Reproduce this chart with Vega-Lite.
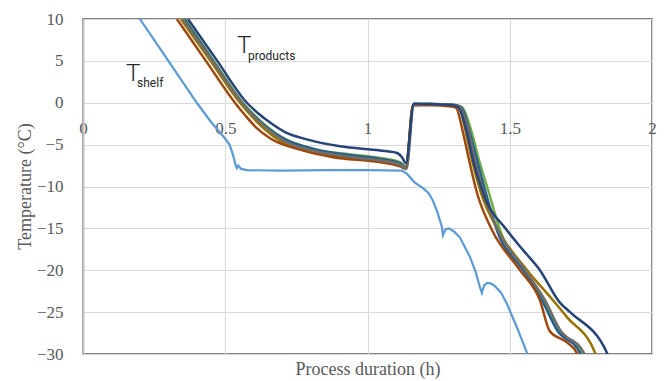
{
  "$schema": "https://vega.github.io/schema/vega-lite/v6.json",
  "width": 569,
  "height": 335,
  "autosize": {"type": "none"},
  "padding": {"left": 83, "top": 19, "right": 13, "bottom": 27},
  "background": "white",
  "config": {"view": {"stroke": "#595959", "strokeWidth": 1.5}},
  "datasets": {
    "curves": [
      {"series": "P6", "x": 0.359, "y": 10}, {"series": "P6", "x": 0.46, "y": 5}, {"series": "P6", "x": 0.562, "y": 0}, {"series": "P6", "x": 0.6, "y": -1.4}, {"series": "P6", "x": 0.645, "y": -2.8}, {"series": "P6", "x": 0.703, "y": -4.2}, {"series": "P6", "x": 0.822, "y": -5.6}, {"series": "P6", "x": 0.95, "y": -6.2}, {"series": "P6", "x": 1.044, "y": -6.6}, {"series": "P6", "x": 1.114, "y": -7.1}, {"series": "P6", "x": 1.135, "y": -7.6}, {"series": "P6", "x": 1.162, "y": -0.2}, {"series": "P6", "x": 1.22, "y": -0.15}, {"series": "P6", "x": 1.3, "y": -0.25}, {"series": "P6", "x": 1.332, "y": -0.51}, {"series": "P6", "x": 1.367, "y": -3.61}, {"series": "P6", "x": 1.392, "y": -6.84}, {"series": "P6", "x": 1.427, "y": -10.78}, {"series": "P6", "x": 1.466, "y": -15.22}, {"series": "P6", "x": 1.55, "y": -19.99}, {"series": "P6", "x": 1.617, "y": -23.58}, {"series": "P6", "x": 1.67, "y": -27.13}, {"series": "P6", "x": 1.754, "y": -29.88}, {"series": "P6", "x": 1.76, "y": -30.5},
      {"series": "P5", "x": 0.355, "y": 10}, {"series": "P5", "x": 0.457, "y": 5}, {"series": "P5", "x": 0.559, "y": 0}, {"series": "P5", "x": 0.6, "y": -1.5}, {"series": "P5", "x": 0.645, "y": -2.9}, {"series": "P5", "x": 0.7, "y": -4.2}, {"series": "P5", "x": 0.82, "y": -5.6}, {"series": "P5", "x": 0.95, "y": -6.3}, {"series": "P5", "x": 1.044, "y": -6.7}, {"series": "P5", "x": 1.114, "y": -7.2}, {"series": "P5", "x": 1.135, "y": -7.7}, {"series": "P5", "x": 1.162, "y": -0.2}, {"series": "P5", "x": 1.22, "y": -0.15}, {"series": "P5", "x": 1.3, "y": -0.25}, {"series": "P5", "x": 1.329, "y": -0.51}, {"series": "P5", "x": 1.36, "y": -3.61}, {"series": "P5", "x": 1.385, "y": -6.84}, {"series": "P5", "x": 1.416, "y": -10.78}, {"series": "P5", "x": 1.455, "y": -15.22}, {"series": "P5", "x": 1.547, "y": -19.99}, {"series": "P5", "x": 1.613, "y": -23.58}, {"series": "P5", "x": 1.666, "y": -27.13}, {"series": "P5", "x": 1.747, "y": -29.88}, {"series": "P5", "x": 1.753, "y": -30.5},
      {"series": "P4", "x": 0.344, "y": 10}, {"series": "P4", "x": 0.448, "y": 5}, {"series": "P4", "x": 0.552, "y": 0}, {"series": "P4", "x": 0.595, "y": -1.7}, {"series": "P4", "x": 0.64, "y": -3.2}, {"series": "P4", "x": 0.69, "y": -4.5}, {"series": "P4", "x": 0.8, "y": -5.9}, {"series": "P4", "x": 0.95, "y": -6.6}, {"series": "P4", "x": 1.044, "y": -6.9}, {"series": "P4", "x": 1.114, "y": -7.4}, {"series": "P4", "x": 1.135, "y": -7.8}, {"series": "P4", "x": 1.16, "y": -0.3}, {"series": "P4", "x": 1.22, "y": -0.2}, {"series": "P4", "x": 1.3, "y": -0.3}, {"series": "P4", "x": 1.322, "y": -0.51}, {"series": "P4", "x": 1.346, "y": -3.61}, {"series": "P4", "x": 1.367, "y": -6.84}, {"series": "P4", "x": 1.399, "y": -10.78}, {"series": "P4", "x": 1.459, "y": -15.22}, {"series": "P4", "x": 1.561, "y": -19.99}, {"series": "P4", "x": 1.652, "y": -23.58}, {"series": "P4", "x": 1.701, "y": -25.6}, {"series": "P4", "x": 1.8, "y": -29.88}, {"series": "P4", "x": 1.806, "y": -30.5},
      {"series": "P2", "x": 0.33, "y": 10}, {"series": "P2", "x": 0.432, "y": 5}, {"series": "P2", "x": 0.534, "y": 0}, {"series": "P2", "x": 0.57, "y": -1.5}, {"series": "P2", "x": 0.61, "y": -3.0}, {"series": "P2", "x": 0.66, "y": -4.3}, {"series": "P2", "x": 0.763, "y": -5.6}, {"series": "P2", "x": 0.879, "y": -6.5}, {"series": "P2", "x": 1.044, "y": -7.1}, {"series": "P2", "x": 1.114, "y": -7.6}, {"series": "P2", "x": 1.135, "y": -7.9}, {"series": "P2", "x": 1.16, "y": -0.3}, {"series": "P2", "x": 1.22, "y": -0.3}, {"series": "P2", "x": 1.295, "y": -0.45}, {"series": "P2", "x": 1.311, "y": -0.6}, {"series": "P2", "x": 1.336, "y": -3.61}, {"series": "P2", "x": 1.357, "y": -6.84}, {"series": "P2", "x": 1.385, "y": -10.78}, {"series": "P2", "x": 1.438, "y": -15.22}, {"series": "P2", "x": 1.536, "y": -19.99}, {"series": "P2", "x": 1.606, "y": -23.58}, {"series": "P2", "x": 1.641, "y": -27.3}, {"series": "P2", "x": 1.701, "y": -28.6}, {"series": "P2", "x": 1.736, "y": -29.88}, {"series": "P2", "x": 1.742, "y": -30.5},
      {"series": "P3", "x": 0.351, "y": 10}, {"series": "P3", "x": 0.455, "y": 5}, {"series": "P3", "x": 0.559, "y": 0}, {"series": "P3", "x": 0.6, "y": -1.6}, {"series": "P3", "x": 0.645, "y": -3.0}, {"series": "P3", "x": 0.7, "y": -4.4}, {"series": "P3", "x": 0.82, "y": -5.8}, {"series": "P3", "x": 0.95, "y": -6.5}, {"series": "P3", "x": 1.044, "y": -6.9}, {"series": "P3", "x": 1.114, "y": -7.4}, {"series": "P3", "x": 1.137, "y": -7.9}, {"series": "P3", "x": 1.163, "y": -0.2}, {"series": "P3", "x": 1.22, "y": -0.15}, {"series": "P3", "x": 1.3, "y": -0.25}, {"series": "P3", "x": 1.325, "y": -0.51}, {"series": "P3", "x": 1.357, "y": -3.61}, {"series": "P3", "x": 1.378, "y": -6.84}, {"series": "P3", "x": 1.409, "y": -10.78}, {"series": "P3", "x": 1.459, "y": -15.22}, {"series": "P3", "x": 1.554, "y": -19.99}, {"series": "P3", "x": 1.624, "y": -23.58}, {"series": "P3", "x": 1.677, "y": -27.13}, {"series": "P3", "x": 1.761, "y": -29.88}, {"series": "P3", "x": 1.767, "y": -30.5},
      {"series": "P1", "x": 0.369, "y": 10}, {"series": "P1", "x": 0.472, "y": 5}, {"series": "P1", "x": 0.576, "y": 0}, {"series": "P1", "x": 0.61, "y": -1.1}, {"series": "P1", "x": 0.655, "y": -2.3}, {"series": "P1", "x": 0.71, "y": -3.5}, {"series": "P1", "x": 0.79, "y": -4.4}, {"series": "P1", "x": 0.903, "y": -5.2}, {"series": "P1", "x": 1.044, "y": -5.7}, {"series": "P1", "x": 1.104, "y": -6.0}, {"series": "P1", "x": 1.121, "y": -6.5}, {"series": "P1", "x": 1.135, "y": -7.2}, {"series": "P1", "x": 1.163, "y": -0.1}, {"series": "P1", "x": 1.22, "y": -0.15}, {"series": "P1", "x": 1.3, "y": -0.3}, {"series": "P1", "x": 1.318, "y": -0.51}, {"series": "P1", "x": 1.35, "y": -3.61}, {"series": "P1", "x": 1.371, "y": -6.84}, {"series": "P1", "x": 1.406, "y": -10.78}, {"series": "P1", "x": 1.49, "y": -15.22}, {"series": "P1", "x": 1.547, "y": -17.6}, {"series": "P1", "x": 1.606, "y": -19.99}, {"series": "P1", "x": 1.677, "y": -23.9}, {"series": "P1", "x": 1.712, "y": -25.0}, {"series": "P1", "x": 1.842, "y": -29.88}, {"series": "P1", "x": 1.848, "y": -30.5}
    ],
    "shelf": [
      {"series": "shelf", "x": 0.19, "y": 10.5}, {"series": "shelf", "x": 0.2, "y": 10}, {"series": "shelf", "x": 0.25, "y": 7.5}, {"series": "shelf", "x": 0.3, "y": 5.0}, {"series": "shelf", "x": 0.35, "y": 2.5}, {"series": "shelf", "x": 0.4, "y": 0.0}, {"series": "shelf", "x": 0.45, "y": -2.3}, {"series": "shelf", "x": 0.5, "y": -4.3}, {"series": "shelf", "x": 0.515, "y": -5.0}, {"series": "shelf", "x": 0.527, "y": -6.2}, {"series": "shelf", "x": 0.537, "y": -7.5}, {"series": "shelf", "x": 0.541, "y": -7.8}, {"series": "shelf", "x": 0.546, "y": -7.5}, {"series": "shelf", "x": 0.556, "y": -7.9}, {"series": "shelf", "x": 0.576, "y": -8.05}, {"series": "shelf", "x": 0.7, "y": -8.1}, {"series": "shelf", "x": 0.85, "y": -8.05}, {"series": "shelf", "x": 1.0, "y": -8.05}, {"series": "shelf", "x": 1.121, "y": -8.1}, {"series": "shelf", "x": 1.139, "y": -8.5}, {"series": "shelf", "x": 1.165, "y": -9.5}, {"series": "shelf", "x": 1.195, "y": -10.2}, {"series": "shelf", "x": 1.215, "y": -10.8}, {"series": "shelf", "x": 1.23, "y": -11.7}, {"series": "shelf", "x": 1.245, "y": -13.0}, {"series": "shelf", "x": 1.262, "y": -14.9}, {"series": "shelf", "x": 1.265, "y": -15.8}, {"series": "shelf", "x": 1.275, "y": -15.1}, {"series": "shelf", "x": 1.287, "y": -15.0}, {"series": "shelf", "x": 1.305, "y": -15.4}, {"series": "shelf", "x": 1.325, "y": -16.1}, {"series": "shelf", "x": 1.36, "y": -18.4}, {"series": "shelf", "x": 1.38, "y": -20.2}, {"series": "shelf", "x": 1.395, "y": -22.0}, {"series": "shelf", "x": 1.402, "y": -22.7}, {"series": "shelf", "x": 1.41, "y": -21.8}, {"series": "shelf", "x": 1.42, "y": -21.5}, {"series": "shelf", "x": 1.435, "y": -21.6}, {"series": "shelf", "x": 1.448, "y": -21.9}, {"series": "shelf", "x": 1.47, "y": -22.7}, {"series": "shelf", "x": 1.49, "y": -24.0}, {"series": "shelf", "x": 1.525, "y": -26.8}, {"series": "shelf", "x": 1.561, "y": -29.9}, {"series": "shelf", "x": 1.568, "y": -30.5}
    ],
    "labels": [
      {"kind": "main", "x": 0.151, "y": 2.6, "text": "T"},
      {"kind": "sub", "x": 0.19, "y": 1.85, "text": "shelf"},
      {"kind": "main", "x": 0.541, "y": 5.94, "text": "T"},
      {"kind": "sub", "x": 0.58, "y": 5.1, "text": "products"}
    ]
  },
  "layer": [
    {
      "data": {"name": "curves"},
      "mark": {"type": "line", "interpolate": "monotone", "strokeWidth": 2.5, "clip": true},
      "encoding": {
        "x": {
          "field": "x", "type": "quantitative",
          "scale": {"domain": [0, 2], "nice": false, "zero": false},
          "axis": {
            "orient": "bottom", "offset": -252, "values": [0, 0.5, 1, 1.5, 2], "format": "~g",
            "domain": false, "ticks": false, "grid": true, "gridColor": "#d9d9d9", "gridWidth": 1.2,
            "labelFont": "Liberation Serif", "labelFontSize": 17, "labelColor": "#595959",
            "labelPadding": 18, "labelFlush": false, "labelOverlap": false,
            "title": "Process duration (h)", "titleFont": "Liberation Serif", "titleFontSize": 18,
            "titleFontWeight": "normal", "titleColor": "#595959", "titleBaseline": "alphabetic",
            "titleY": 272
          }
        },
        "y": {
          "field": "y", "type": "quantitative",
          "scale": {"domain": [-30, 10], "nice": false, "zero": false},
          "axis": {
            "values": [-30, -25, -20, -15, -10, -5, 0, 5, 10],
            "domain": true, "domainColor": "#c8c8c8", "domainWidth": 2, "ticks": false,
            "grid": true, "gridColor": "#d9d9d9", "gridWidth": 1.2,
            "labelFont": "Liberation Serif", "labelFontSize": 17, "labelColor": "#595959",
            "labelPadding": 20, "labelOverlap": false, "labelFlush": false,
            "title": "Temperature (°C)", "titleFont": "Liberation Serif", "titleFontSize": 18,
            "titleFontWeight": "normal", "titleColor": "#595959", "titleBaseline": "alphabetic",
            "titleX": -53, "titleY": 167, "titleAngle": 270, "titleAlign": "center"
          }
        },
        "color": {
          "field": "series", "type": "nominal", "legend": null,
          "scale": {
            "domain": ["shelf", "P1", "P2", "P3", "P4", "P5", "P6"],
            "range": ["#5B9BD5", "#264478", "#9E480E", "#6E6E6E", "#997300", "#255E91", "#70AD47"]
          }
        }
      }
    },
    {
      "data": {"name": "shelf"},
      "mark": {"type": "line", "interpolate": "linear", "strokeWidth": 2.2, "clip": true},
      "encoding": {
        "x": {"field": "x", "type": "quantitative"},
        "y": {"field": "y", "type": "quantitative"},
        "color": {"field": "series", "type": "nominal", "legend": null}
      }
    },
    {
      "data": {"name": "labels"},
      "transform": [{"filter": "datum.kind === 'main'"}],
      "mark": {"type": "text", "font": "Roboto", "fontSize": 24, "fontWeight": 300, "align": "left", "baseline": "alphabetic", "color": "#262626"},
      "encoding": {
        "x": {"field": "x", "type": "quantitative"},
        "y": {"field": "y", "type": "quantitative"},
        "text": {"field": "text"}
      }
    },
    {
      "data": {"name": "labels"},
      "transform": [{"filter": "datum.kind === 'sub'"}],
      "mark": {"type": "text", "font": "Roboto", "fontSize": 12, "align": "left", "baseline": "alphabetic", "color": "#262626"},
      "encoding": {
        "x": {"field": "x", "type": "quantitative"},
        "y": {"field": "y", "type": "quantitative"},
        "text": {"field": "text"}
      }
    }
  ]
}
